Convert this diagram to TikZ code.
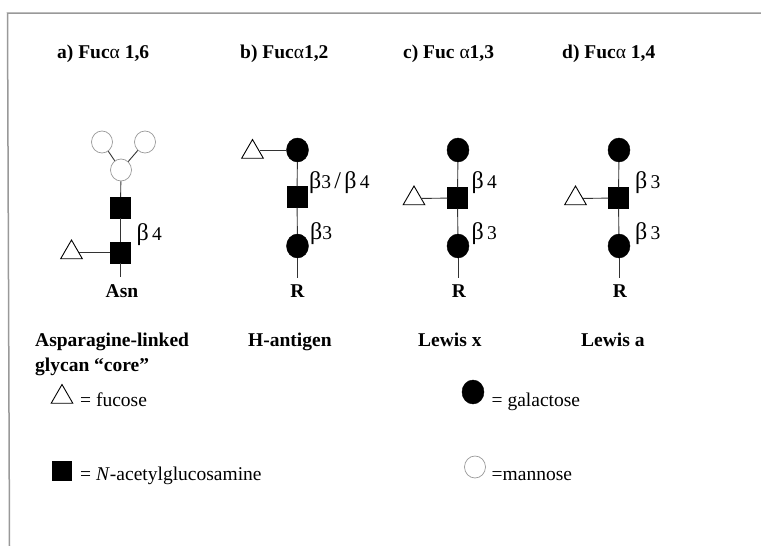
\documentclass[tikz,border=0pt]{standalone}
\usepackage{fontspec}
\setmainfont{Liberation Serif}
\usetikzlibrary{shapes.geometric}
\newcommand\bt{{\fontsize{24}{22}\selectfont β}}
\begin{document}
\begin{tikzpicture}[x=1pt,y=-1pt,
  lnk/.style={draw=black!80, line width=0.9pt},
  gal/.style={ellipse, fill=black, draw=black, minimum width=22pt, minimum height=24pt, inner sep=0pt},
  man/.style={ellipse, draw=black!40, fill=white, line width=0.7pt, minimum width=21pt, minimum height=22pt, inner sep=0pt},
  glc/.style={rectangle, fill=black, draw=black, minimum width=20pt, minimum height=21pt, inner sep=0pt},
  fuc/.style={regular polygon, regular polygon sides=3, draw=black, line width=0.9pt, minimum size=25pt, inner sep=0pt},
  ttl/.style={font=\fontsize{19.5}{22}\selectfont\bfseries, anchor=base west, inner sep=0pt},
  lbl/.style={font=\fontsize{19.5}{22}\selectfont\bfseries, inner sep=0pt},
  bet/.style={font=\fontsize{19.5}{22}\selectfont, anchor=base west, inner sep=0pt},
  leg/.style={font=\fontsize{19.5}{22}\selectfont, anchor=base west, inner sep=0pt}]
\useasboundingbox (0,0) rectangle (761,546);
\fill[white] (0,0) rectangle (761,546);
\draw[black!40, line width=1.5pt] (761,13) -- (7.5,13) -- (9.5,546);

% titles
\node[ttl] (ta) at (57,58) {a) Fuc\textmd{α} 1,6};
\node[ttl] (tb) at (240,58) {b) Fuc\textmd{α}1,2};
\node[ttl] (tc) at (403,58) {c) Fuc \textmd{α}1,3};
\node[ttl] (td) at (562,58) {d) Fuc\textmd{α} 1,4};

% a) core
\node[man] (mL) at (102,142) {};
\node[man] (mR) at (145,142) {};
\node[man] (mM) at (121,170) {};
\node[glc] (a1) at (120.5,207.5) {};
\node[glc] (a2) at (120.5,252.5) {};
\node[fuc] (fa) at (71.5,252.5) {};
\coordinate (ae) at (120.5,277);
\draw[lnk] (mL) -- (mM);
\draw[lnk] (mR) -- (mM);
\draw[lnk] (mM) -- (a1);
\draw[lnk] (a1) -- (a2);
\draw[lnk] (a2) -- (ae);
\draw[lnk] (fa) -- (a2);
\node[bet] (ba) at (136.5,240) {\bt\,4};
\node[lbl, anchor=base] (asn) at (122,297) {Asn};

% b) H-antigen
\node[gal] (b1) at (297.5,150) {};
\node[glc] (b2) at (297,197) {};
\node[gal] (b3) at (297.5,246) {};
\node[fuc] (fb) at (252.5,152) {};
\coordinate (be) at (297.5,278);
\draw[lnk] (fb.east |- b1) -- (b1);
\draw[lnk] (b1) -- (b2);
\draw[lnk] (b2) -- (b3);
\draw[lnk] (b3) -- (be);
\node[bet] (bb1) at (309,188) {\bt3\,{\fontsize{24}{22}\selectfont/}\,\bt\,4};
\node[bet] (bb2) at (310,239) {\bt3};
\node[lbl, anchor=base] (rb) at (297.5,297) {R};

% c) Lewis x
\node[gal] (c1) at (458,150) {};
\node[glc] (c2) at (457.5,198) {};
\node[gal] (c3) at (458,246) {};
\node[fuc] (fc) at (414,198.5) {};
\coordinate (ce) at (458,278);
\draw[lnk] (c1) -- (c2);
\draw[lnk] (c2) -- (c3);
\draw[lnk] (c3) -- (ce);
\draw[lnk] (fc) -- (c2);
\node[bet] (bc1) at (471.5,188) {\bt\,4};
\node[bet] (bc2) at (471.5,239) {\bt\,3};
\node[lbl, anchor=base] (rc) at (459,297) {R};

% d) Lewis a
\node[gal] (d1) at (619,150) {};
\node[glc] (d2) at (618.5,198) {};
\node[gal] (d3) at (619,246) {};
\node[fuc] (fd) at (575.5,198.5) {};
\coordinate (de) at (619,278);
\draw[lnk] (d1) -- (d2);
\draw[lnk] (d2) -- (d3);
\draw[lnk] (d3) -- (de);
\draw[lnk] (fd) -- (d2);
\node[bet] (bd1) at (635,188) {\bt\,3};
\node[bet] (bd2) at (635,239) {\bt\,3};
\node[lbl, anchor=base] (rd) at (620,297) {R};

% names
\node[lbl, anchor=base west] (n1) at (35,346) {Asparagine-linked};
\node[lbl, anchor=base west] (n2) at (35,371) {glycan “core”};
\node[lbl, anchor=base west] (n3) at (248,346) {H-antigen};
\node[lbl, anchor=base west] (n4) at (418,346) {Lewis x};
\node[lbl, anchor=base west] (n5) at (581,346) {Lewis a};

% legend
\node[fuc] (lf) at (62,397) {};
\node[leg] (lft) at (80,406) {= fucose};
\node[glc, minimum width=19pt, minimum height=19pt] (lg) at (61.5,471) {};
\node[leg] (lgt) at (80,480) {= \textit{N}-acetylglucosamine};
\node[gal] (lga) at (473,392) {};
\node[leg] (lgat) at (491.5,406) {= galactose};
\node[man] (lm) at (475,467) {};
\node[leg] (lmt) at (491.5,480) {=mannose};
\end{tikzpicture}
\end{document}
